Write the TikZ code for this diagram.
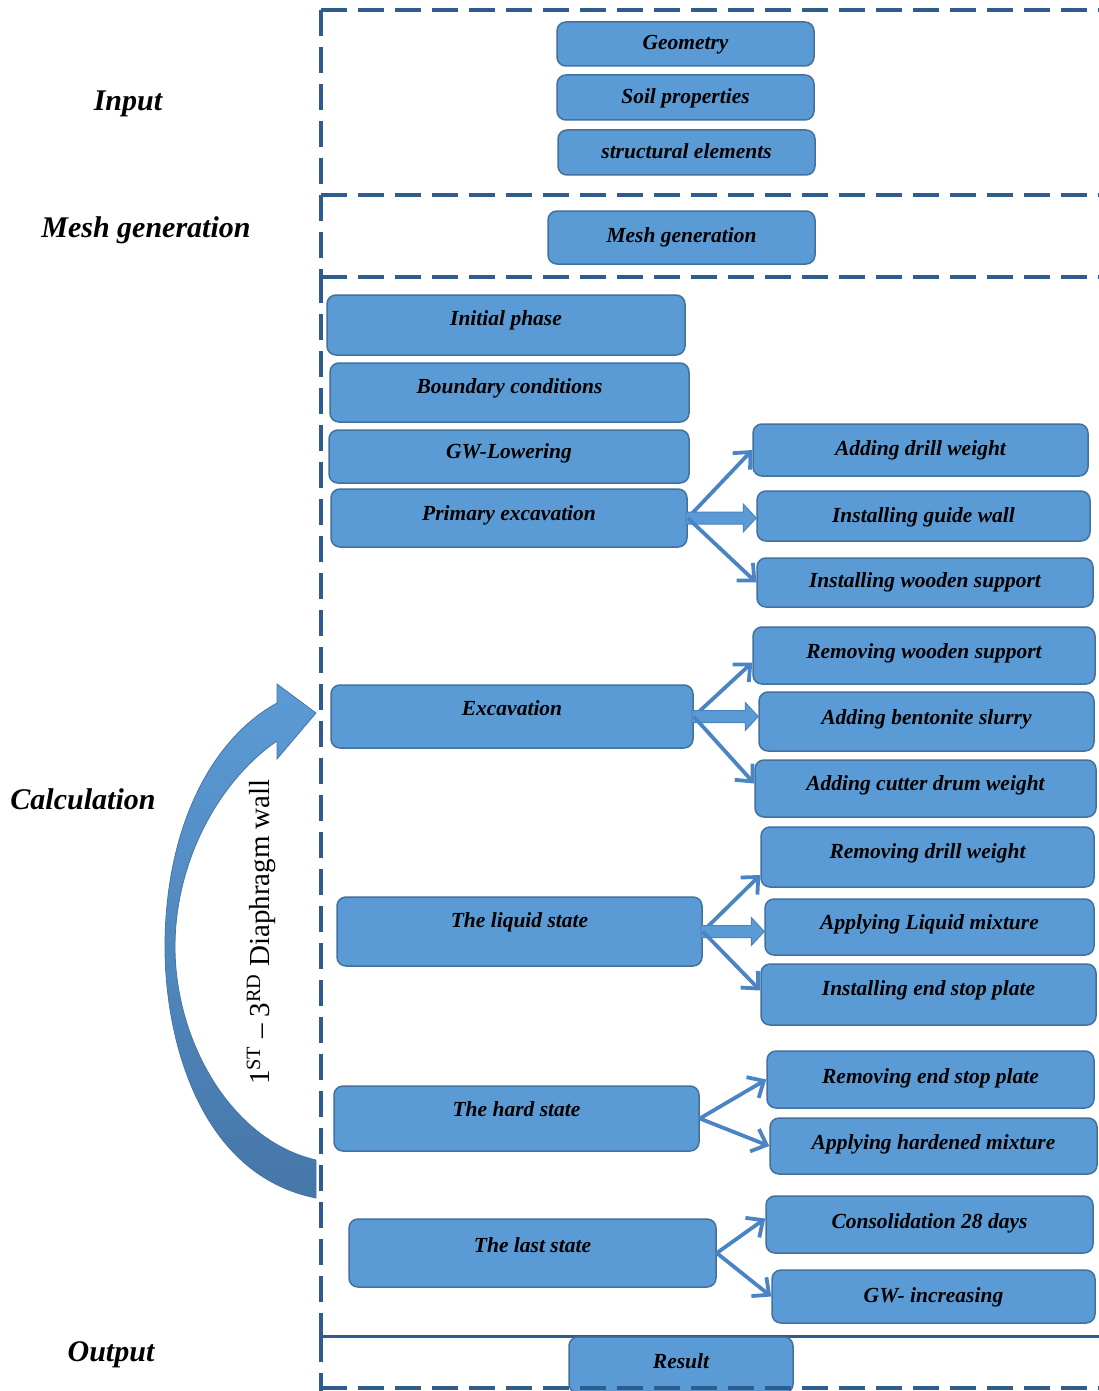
\documentclass[tikz,border=0pt]{standalone}
\usepackage{fontspec}
\setmainfont{Liberation Serif}
\usetikzlibrary{arrows.meta,calc}
\definecolor{boxfill}{HTML}{5B9BD5}
\definecolor{boxline}{HTML}{41719C}
\definecolor{framecol}{HTML}{2E5C8C}
\definecolor{arrcol}{HTML}{4A84C4}
\definecolor{arrdark}{HTML}{4676A8}
\newcommand\bx[7]{%
  \node[box, minimum width={(#4-#2)*1pt}, minimum height={(#5-#3)*1pt}] (#1) at ({(#2+#4)/2},{(#3+#5)/2}) {};
  \node[lbl] (#1-t) at ({(#2+#4)/2},#6) {#7};}
\newcommand\blockarr[2]{%
  \filldraw[fill=boxfill, draw=arrcol, line width=1pt] let \p1=(#1.east), \p2=(#2.west) in
    (\x1-2,\y1+6) -- (\x2-13,\y1+6) -- (\x2-13,\y1+14) -- (\x2,\y1) -- (\x2-13,\y1-14) -- (\x2-13,\y1-6) -- (\x1-2,\y1-6) -- cycle;}
\begin{document}
\begin{tikzpicture}[x=1pt,y=-1pt,
  box/.style={draw=boxline, fill=boxfill, line width=1.5pt, rounded corners=9pt, inner sep=0pt},
  lbl/.style={font=\fontsize{21.5}{24}\selectfont\bfseries\itshape, text height=14pt, text depth=0pt, inner sep=0pt},
  side/.style={font=\fontsize{30}{34}\selectfont\bfseries\itshape, text height=20pt, text depth=0pt, inner sep=0pt},
  frameline/.style={draw=framecol, line width=3.5pt, dash pattern=on 26pt off 11pt},
  thinarr/.style={draw=arrcol, line width=3.8pt, -{Straight Barb[length=13pt,width=24pt]}},
]
\useasboundingbox (0,0) rectangle (1099,1391);
\fill[white] (0,0) rectangle (1099,1391);

% frame
\draw[frameline] (321,10) -- (1099,10);
\draw[frameline] (321,10) -- (321,195);
\draw[frameline] (321,195) -- (1099,195);
\draw[frameline] (321,195) -- (321,277);
\draw[frameline] (321,277) -- (1099,277);
\draw[frameline] (321,277) -- (321,1336);
\draw[draw=framecol, line width=3pt] (321,1336) -- (1099,1336);
\draw[frameline] (321,1336) -- (321,1391);

% side labels
\node[side] (lin) at (128,101) {Input};
\node[side] (lmesh) at (146,227) {Mesh generation};
\node[side] (lcalc) at (83,799) {Calculation};
\node[side] (lout) at (111,1351) {Output};

% boxes
\bx{geo}{557}{22}{814}{66}{43}{Geometry}
\bx{soil}{557}{75}{814}{120}{97}{Soil properties}
\bx{struct}{558}{130}{815}{175}{152}{structural elements}
\bx{mesh}{548}{211}{815}{264}{235}{Mesh generation}
\bx{init}{327}{295}{685}{355}{318}{Initial phase}
\bx{bc}{330}{363}{689}{422}{386}{Boundary conditions}
\bx{gwl}{329}{430}{689}{483}{451}{GW-Lowering}
\bx{pe}{331}{489}{687}{547}{513}{Primary excavation}
\bx{adw}{753}{424}{1088}{476}{448}{Adding drill weight}
\bx{igw}{757}{491}{1090}{541}{515}{Installing guide wall}
\bx{iws}{757}{558}{1093}{607}{580}{Installing wooden support}
\bx{rws}{753}{627}{1095}{684}{651}{Removing wooden support}
\bx{exc}{331}{685}{693}{748}{708}{Excavation}
\bx{abs}{759}{692}{1094}{751}{717}{Adding bentonite slurry}
\bx{acdw}{755}{760}{1096}{817}{783}{Adding cutter drum weight}
\bx{rdw}{761}{827}{1094}{887}{851}{Removing drill weight}
\bx{liq}{337}{897}{702}{966}{920}{The liquid state}
\bx{alm}{765}{899}{1094}{955}{922}{Applying Liquid mixture}
\bx{iesp}{761}{964}{1096}{1025}{988}{Installing end stop plate}
\bx{resp}{767}{1051}{1094}{1108}{1076}{Removing end stop plate}
\bx{hard}{334}{1086}{699}{1151}{1109}{The hard state}
\bx{ahm}{770}{1118}{1097}{1174}{1142}{Applying hardened mixture}
\bx{cons}{766}{1196}{1093}{1253}{1221}{Consolidation 28 days}
\bx{last}{349}{1219}{716}{1287}{1245}{The last state}
\bx{gwi}{772}{1270}{1095}{1323}{1295}{GW- increasing}
\bx{res}{569}{1337}{793}{1393}{1361}{Result}

\draw[frameline] (321,1388) -- (1099,1388);

% connectors
\draw[thinarr] (pe.east) -- (adw.west);
\blockarr{pe}{igw}
\draw[thinarr] (pe.east) -- (iws.west);

\draw[thinarr] (exc.east) -- ([yshift=-7pt]rws.west);
\blockarr{exc}{abs}
\draw[thinarr] (exc.east) -- ([yshift=5pt]acdw.west);

\draw[thinarr] (liq.east) -- ([yshift=-18pt]rdw.west);
\blockarr{liq}{alm}
\draw[thinarr] (liq.east) -- ([yshift=4pt]iesp.west);

\draw[thinarr] (hard.east) -- (resp.west);
\draw[thinarr] (hard.east) -- (ahm.west);

\draw[thinarr] (last.east) -- ([yshift=6pt]cons.west);
\draw[thinarr] (last.east) -- (gwi.west);

% curved arrow
\shade[top color=boxfill, bottom color=arrdark, draw=arrdark, line width=0.8pt]
  (316,1198) .. controls (200,1175) and (165,1040) .. (165,947)
  .. controls (165,830) and (210,740) .. (277,703)
  -- (277,684) -- (316,713) -- (277,759) -- (277,741)
  .. controls (220,780) and (175,860) .. (175,947)
  .. controls (175,1040) and (230,1140) .. (316,1160) -- cycle;
\node[rotate=90, font=\fontsize{29}{32}\selectfont, inner sep=0pt] (dw) at (261,932)
  {1\textsuperscript{ST} -- 3\textsuperscript{RD} Diaphragm wall};
\end{tikzpicture}
\end{document}
